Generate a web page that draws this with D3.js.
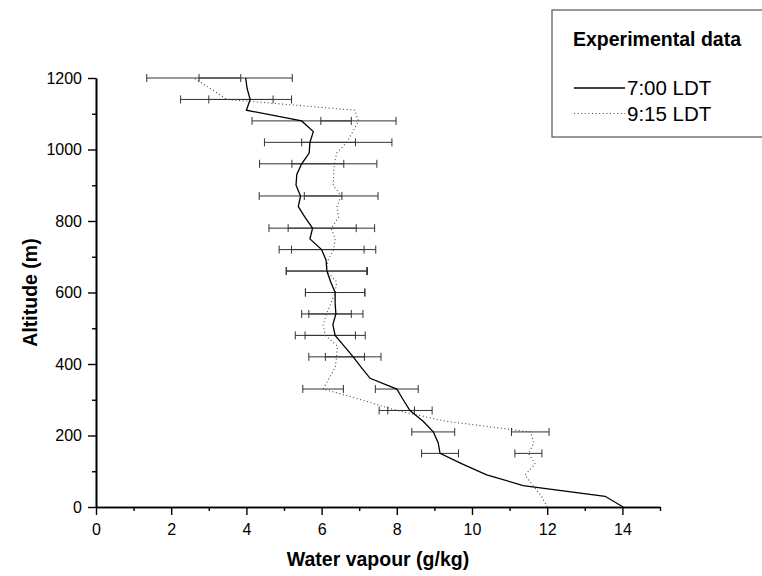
<!DOCTYPE html>
<html>
<head>
<meta charset="utf-8">
<script src="https://cdn.jsdelivr.net/npm/d3@7"></script>
<style>
  body { margin: 0; background: #fff; }
  svg { font-family: "Liberation Sans", Arial, sans-serif; }
</style>
</head>
<body>
<div id="chart"></div>
<script>
// Altitude levels (m) of both soundings
const altitude = [0, 30, 60, 90, 120, 150, 180, 210, 240, 270, 300, 330, 360, 390, 420,
    450, 480, 510, 540, 570, 600, 630, 660, 690, 720, 750, 780, 810, 840, 870, 900,
    930, 960, 990, 1020, 1050, 1080, 1110, 1140, 1170, 1200];

// Water vapour (g/kg), 7:00 LDT
const vapour0700 = [14.02, 13.54, 11.36, 10.39, 9.75, 9.15, 9.10, 8.97, 8.70, 8.35, 8.17,
    8.00, 7.29, 7.06, 6.84, 6.60, 6.36, 6.30, 6.38, 6.36, 6.36, 6.24, 6.14, 6.12, 6.00,
    5.69, 5.76, 5.56, 5.38, 5.44, 5.32, 5.34, 5.47, 5.67, 5.69, 5.78, 5.47, 4.00, 4.10,
    4.02, 3.98];

// Water vapour (g/kg), 9:15 LDT
const vapour0915 = [12.00, 11.85, 11.62, 11.41, 11.68, 11.50, 11.65, 11.55, 9.30, 8.00, 7.05,
    6.04, 6.20, 6.36, 6.40, 6.42, 6.10, 6.04, 6.13, 6.25, 6.36, 6.40, 6.13, 6.17, 6.32,
    6.36, 6.26, 6.45, 6.41, 6.52, 6.31, 6.32, 6.34, 6.40, 6.67, 6.83, 6.98, 6.88, 3.48,
    3.05, 2.60];

// Error bars (half widths, g/kg) at these altitudes
const errAltitude = [150, 210, 270, 330, 420, 480, 540, 600, 660, 720, 780, 870, 960, 1020, 1080, 1140, 1200];
const err0700 = [0.49, 0.57, 0.59, 0.57, 0.74, 0.80, 0.72, 0.79, 1.08, 1.13, 1.16, 1.10, 1.12, 1.21, 1.32, 1.10, 1.24];
const err0915 = [0.36, 0.50, 0.47, 0.54, 0.74, 0.80, 0.66, 0.79, 1.07, 1.12, 1.15, 0.98, 1.13, 1.20, 1.00, 1.23, 1.25];

const xMajor = [0, 2, 4, 6, 8, 10, 12, 14];
const xMinor = [1, 3, 5, 7, 9, 11, 13, 15];
const yMajor = [0, 200, 400, 600, 800, 1000, 1200];
const yMinor = [100, 300, 500, 700, 900, 1100];

const seriesNames = ["7:00 LDT", "9:15 LDT"];

const width = 762, height = 576;
const svg = d3.select("#chart").append("svg")
    .attr("width", width)
    .attr("height", height);

const x = d3.scaleLinear().domain([0, 15]).range([96, 660]);
const y = d3.scaleLinear().domain([0, 1200]).range([507, 78]);

// build series records
const series = [
    { name: seriesNames[0], values: vapour0700, err: err0700, dash: null, color: "#000", width: 1.3 },
    { name: seriesNames[1], values: vapour0915, err: err0915, dash: "1,2.6", color: "#444", width: 1.1 }
];

// error bars
series.forEach(s => {
    const bars = errAltitude.map((a, i) => {
        const v = s.values[altitude.indexOf(a)];
        return { alt: a, lo: v - s.err[i], hi: v + s.err[i] };
    });
    const g = svg.append("g").attr("class", "errbars")
        .attr("stroke", "#333").attr("stroke-width", 1).attr("fill", "none");
    g.selectAll("line.bar").data(bars).enter().append("line")
        .attr("x1", d => x(d.lo)).attr("x2", d => x(d.hi))
        .attr("y1", d => y(d.alt)).attr("y2", d => y(d.alt));
    g.selectAll("line.capl").data(bars).enter().append("line")
        .attr("x1", d => x(d.lo)).attr("x2", d => x(d.lo))
        .attr("y1", d => y(d.alt) - 4).attr("y2", d => y(d.alt) + 4);
    g.selectAll("line.caph").data(bars).enter().append("line")
        .attr("x1", d => x(d.hi)).attr("x2", d => x(d.hi))
        .attr("y1", d => y(d.alt) - 4).attr("y2", d => y(d.alt) + 4);
});

// profile lines
const line = d3.line()
    .x(d => x(d[1]))
    .y(d => y(d[0]));

series.forEach(s => {
    svg.append("path")
        .datum(altitude.map((a, i) => [a, s.values[i]]))
        .attr("fill", "none")
        .attr("stroke", s.color)
        .attr("stroke-width", s.width)
        .attr("stroke-dasharray", s.dash)
        .attr("d", line);
});

// axes
function styleAxis(g) {
    g.select(".domain").attr("stroke", "#000").attr("stroke-width", 1.6);
    g.selectAll(".tick line").attr("stroke", "#000").attr("stroke-width", 1.4);
    g.selectAll(".tick text").attr("fill", "#000").style("font-size", "16px");
}

svg.append("g")
    .attr("transform", `translate(0,${y(0)})`)
    .call(d3.axisBottom(x).tickValues(xMinor).tickSize(4).tickSizeOuter(0).tickFormat(""))
    .call(styleAxis);
svg.append("g")
    .attr("transform", `translate(0,${y(0)})`)
    .call(d3.axisBottom(x).tickValues(xMajor).tickSize(8).tickSizeOuter(0).tickPadding(9).tickFormat(d3.format("d")))
    .call(styleAxis);

svg.append("g")
    .attr("transform", `translate(${x(0)},0)`)
    .call(d3.axisLeft(y).tickValues(yMinor).tickSize(4).tickSizeOuter(0).tickFormat(""))
    .call(styleAxis);
svg.append("g")
    .attr("transform", `translate(${x(0)},0)`)
    .call(d3.axisLeft(y).tickValues(yMajor).tickSize(8).tickSizeOuter(0).tickPadding(6).tickFormat(d3.format("d")))
    .call(styleAxis);

// axis titles
svg.append("text")
    .attr("x", (x(0) + x(15)) / 2)
    .attr("y", 566)
    .attr("text-anchor", "middle")
    .style("font-size", "19.5px")
    .style("font-weight", "bold")
    .text("Water vapour (g/kg)");

svg.append("text")
    .attr("transform", `translate(37,${(y(0) + y(1200)) / 2}) rotate(-90)`)
    .attr("text-anchor", "middle")
    .style("font-size", "19.5px")
    .style("font-weight", "bold")
    .text("Altitude (m)");

// legend
const legend = svg.append("g").attr("class", "legend");
legend.append("rect")
    .attr("x", 552).attr("y", 10)
    .attr("width", 230).attr("height", 127)
    .attr("fill", "#fff")
    .attr("stroke", "#555")
    .attr("stroke-width", 1.2);
legend.append("text")
    .attr("x", 573).attr("y", 46)
    .style("font-size", "19.5px")
    .style("font-weight", "bold")
    .text("Experimental data");

series.forEach((s, i) => {
    const ly = 88 + i * 25.5;
    legend.append("line")
        .attr("x1", 574).attr("x2", 625)
        .attr("y1", ly).attr("y2", ly)
        .attr("stroke", s.color)
        .attr("stroke-width", s.width)
        .attr("stroke-dasharray", s.dash);
    legend.append("text")
        .attr("x", 627).attr("y", ly + 7)
        .style("font-size", "20.5px")
        .text(s.name);
});
</script>
</body>
</html>
